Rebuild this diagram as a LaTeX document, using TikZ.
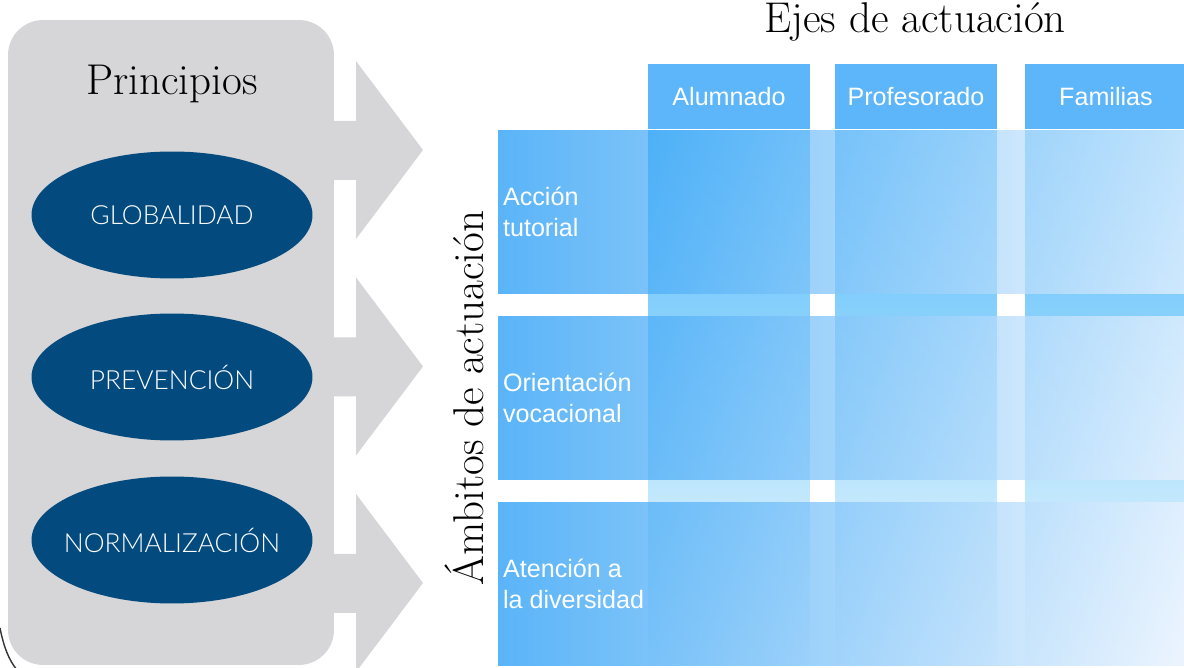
\documentclass[tikz,border=0pt]{standalone}
\usepackage{fontspec}
\usepackage{tikz}
\usetikzlibrary{shapes.geometric, positioning}
\newfontfamily\ovalfont{Lato Light}
\newfontfamily\gridfont{Liberation Sans}
\definecolor{panelgrey}{HTML}{D6D5D7}
\definecolor{ovalblue}{HTML}{034B7F}
\definecolor{rowblue}{HTML}{239BF5}
\definecolor{rowfade}{HTML}{E9F2FE}
\definecolor{colblue}{HTML}{4DB9FA}
\definecolor{colfade}{HTML}{F8FDFF}
\definecolor{headblue}{HTML}{5CB6F9}

\begin{document}
\begin{tikzpicture}[
    x=0.02cm, y=-0.02cm,
    panel/.style={rectangle, rounded corners=0.7cm, fill=panelgrey, minimum width=6.52cm, minimum height=12.9cm},
    principle/.style={ellipse, fill=ovalblue, inner sep=0pt, inner xsep=-0.6cm, minimum width=5.62cm, minimum height=2.54cm, text=white, font=\ovalfont\fontsize{15}{18}\selectfont},
    title/.style={font=\fontsize{24.5}{28}\selectfont},
    band/.style={rectangle, inner sep=0pt, minimum width=13.72cm, minimum height=3.28cm, left color=rowblue, right color=rowfade, fill opacity=0.75},
    axis/.style={rectangle, inner sep=0pt, minimum width=3.24cm, minimum height=10.72cm, top color=colblue, bottom color=colfade},
    header/.style={rectangle, inner sep=0pt, minimum width=3.24cm, minimum height=1.3cm, fill=headblue, text=white, font=\gridfont\fontsize{14.3}{17.6}\selectfont},
    bandlabel/.style={anchor=west, align=left, inner sep=0pt, text=white, font=\gridfont\fontsize{14.3}{17.6}\selectfont}
]
\useasboundingbox (0,0) rectangle (1184,668);
\clip (0,0) rectangle (1184,668);

\node[panel] (panel) at (171,342.5) {};
\foreach \tip in {150,366.5,583}
    \fill[panelgrey] (330,\tip-29) -- (356,\tip-29) -- (356,\tip-89) -- (423,\tip) -- (356,\tip+89) -- (356,\tip+30) -- (330,\tip+30) -- cycle;

\node[title] (principios) at (172,84) {Principios};
\node[principle] (glob) at (172,215) {GLOBALIDAD};
\node[principle] (prev) at (172,377) {PREVENCIÓN};
\node[principle] (norm) at (172,540) {NORMALIZACIÓN};

\node[axis] (colalum) at (729,398) {};
\node[axis] (colprof) at (916,398) {};
\node[axis] (colfam) at (1106,398) {};

\node[header, above=0pt of colalum] (alum) {Alumnado};
\node[header, above=0pt of colprof] (prof) {Profesorado};
\node[header, above=0pt of colfam] (fam) {Familias};

\node[band] (rowtut) at (841,212) {};
\node[band] (rowvoc) at (841,398) {};
\node[band] (rowdiv) at (841,584) {};

\node[bandlabel] (labtut) at ([xshift=0.1cm]rowtut.west) {Acción\\tutorial};
\node[bandlabel] (labvoc) at ([xshift=0.1cm]rowvoc.west) {Orientación\\vocacional};
\node[bandlabel] (labdiv) at ([xshift=0.1cm]rowdiv.west) {Atención a\\la diversidad};

\node[title] (ejes) at (915,22) {Ejes de actuación};
\node[title, rotate=90] (ambitos) at (464,398) {Ámbitos de actuación};

\draw[line width=0.8pt, black!80] (0,628) .. controls (4,648) and (9,660) .. (17,670);

\end{tikzpicture}
\end{document}
